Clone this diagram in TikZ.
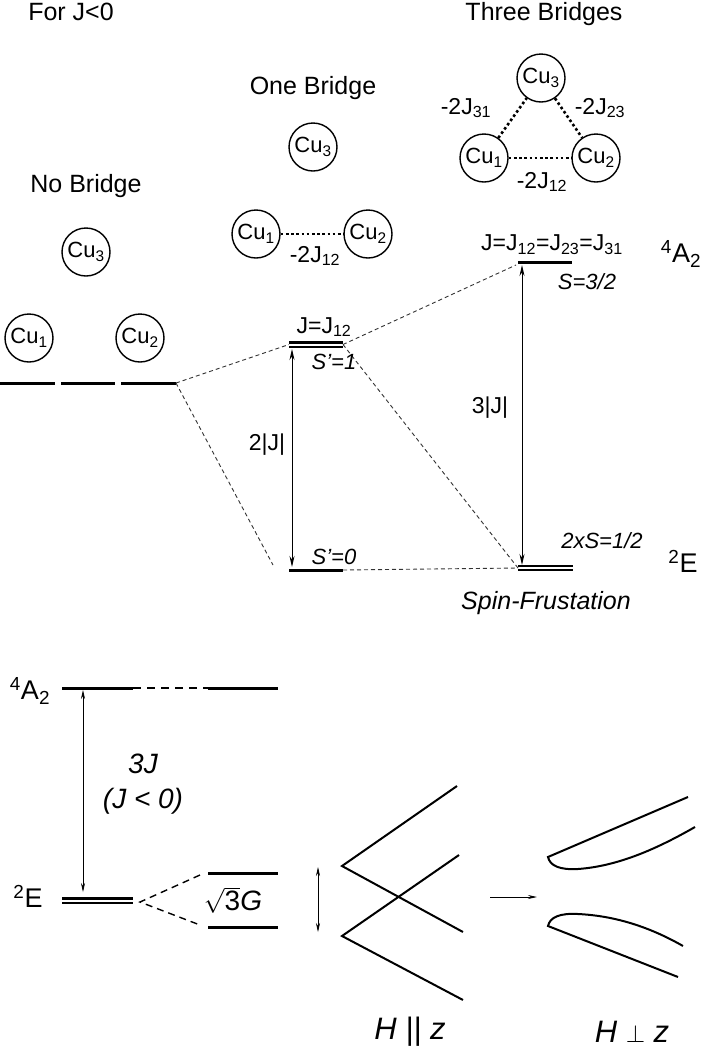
\documentclass[tikz,border=0pt]{standalone}
\usepackage{fontspec}
\setmainfont{Liberation Sans}
\usetikzlibrary{arrows.meta}

\tikzset{
	cu/.style = {circle, draw, line width = 1.4pt, minimum size = 48pt, inner sep = 0pt, font = \fontsize{22}{24}\selectfont},
	bond/.style = {line width = 2.6pt, dash pattern = on 2.6pt off 2.6pt},
	level/.style = {line width = 3pt},
	dlevel/.style = {line width = 2.4pt, double, double distance = 2pt},
	corr/.style = {line width = 0.9pt, black!80, dash pattern = on 4pt off 3pt},
	head/.style = {inner sep = 0pt, font = \fontsize{25}{28}\selectfont},
	lbl/.style = {inner sep = 0pt, font = \fontsize{23}{26}\selectfont},
	ilbl/.style = {inner sep = 0pt, font = \fontsize{22}{26}\selectfont\itshape},
	big/.style = {inner sep = 0pt, font = \fontsize{27}{30}\selectfont},
	gap/.style = {{Stealth[length=11pt,width=5pt]}-{Stealth[length=11pt,width=5pt]}, line width = 1pt},
	thingap/.style = {{Stealth[length=9pt,width=4pt]}-{Stealth[length=9pt,width=4pt]}, line width = 0.7pt},
}

\begin{document}
\begin{tikzpicture}[x=1pt, y=-1pt]
	\useasboundingbox (0,0) rectangle (705,1050);

	% titles
	\node[head] (title) at (71,12) {For J<0};
	\node[head] (tnb) at (86,186) {No Bridge};
	\node[head] (tob) at (313,88) {One Bridge};
	\node[head] (ttb) at (544,14) {Three Bridges};

	% no bridge
	\node[cu] (nbC) at (86,252) {Cu\textsubscript{3}};
	\node[cu] (nbA) at (29,338) {Cu\textsubscript{1}};
	\node[cu] (nbB) at (140,338) {Cu\textsubscript{2}};

	% one bridge
	\node[cu] (obC) at (313,147) {Cu\textsubscript{3}};
	\node[cu] (obA) at (256,234) {Cu\textsubscript{1}};
	\node[cu] (obB) at (368,234) {Cu\textsubscript{2}};
	\draw[bond] (obA) -- (obB);
	\node[lbl] (obJ) at (315,256) {-2J\textsubscript{12}};

	% three bridges
	\node[cu] (tbC) at (541,78) {Cu\textsubscript{3}};
	\node[cu] (tbA) at (484,158) {Cu\textsubscript{1}};
	\node[cu] (tbB) at (596,158) {Cu\textsubscript{2}};
	\draw[bond] (tbA) -- (tbB);
	\draw[bond] (tbA) -- (tbC);
	\draw[bond] (tbC) -- (tbB);
	\node[lbl] (tbJa) at (466,108) {-2J\textsubscript{31}};
	\node[lbl] (tbJb) at (600,108) {-2J\textsubscript{23}};
	\node[lbl] (tbJc) at (542,182) {-2J\textsubscript{12}};

	% levels
	\draw[level] (0,383) -- (55,383);
	\draw[level] (61,383) -- (115,383);
	\draw[level] (121,383) -- (176,383) coordinate (nb);
	\draw[dlevel] (289,344.5) coordinate (ob1l) -- (343,344.5) coordinate (ob1r);
	\draw[level] (289,570) coordinate (ob0l) -- (343,570) coordinate (ob0r);
	\draw[level] (518,262) coordinate (tbql) -- (572,262);
	\draw[dlevel] (518,568) coordinate (tbdl) -- (573,568);
	\coordinate (ob0in) at (273,565);
	\coordinate (tbqin) at (516,265);

	% correlation lines
	\draw[corr] (nb) -- (ob1l);
	\draw[corr] (nb) -- (ob0in);
	\draw[corr] (ob1r) -- (tbqin);
	\draw[corr] (ob1r) -- (tbdl);
	\draw[corr] (ob0r) -- (tbdl);

	% gaps
	\draw[gap] (292,349) -- (292,567);
	\draw[gap] (522,265) -- (522,565);

	\node[lbl] (ob1J) at (324,327) {J=J\textsubscript{12}};
	\node[ilbl] (ob1S) at (334,362) {S’=1};
	\node[ilbl] (ob0S) at (334,557) {S’=0};
	\node[lbl] (obgap) at (267,445) {2|J|};
	\node[lbl] (tbgap) at (490,408) {3|J|};
	\node[lbl] (tbqJ) at (552,245) {J=J\textsubscript{12}=J\textsubscript{23}=J\textsubscript{31}};
	\node[ilbl] (tbqS) at (587,282) {S=3/2};
	\node[big] (tbqT) at (681,254) {\textsuperscript{4}A\textsubscript{2}};
	\node[ilbl] (tbdS) at (602,541) {2xS=1/2};
	\node[big] (tbdT) at (683,561) {\textsuperscript{2}E};
	\node[inner sep = 0pt, font = \fontsize{25}{28}\selectfont\itshape] (spin) at (546,603) {Spin-Frustation};

	% bottom scheme
	\node[big] (qA) at (30,691) {\textsuperscript{4}A\textsubscript{2}};
	\node[big] (dE) at (28,896) {\textsuperscript{2}E};
	\draw[level] (62,688) coordinate (qAl) -- (133,688) coordinate (qAr);
	\draw[level] (208,688) coordinate (qBl) -- (278,688);
	\draw[line width = 2pt, dash pattern = on 8pt off 6pt] (qAr) -- (qBl);
	\draw[dlevel] (62,900.5) -- (133,900.5);
	\draw[level] (208,873) -- (278,873);
	\draw[level] (208,927) -- (278,927);
	\coordinate (split) at (140,902);
	\coordinate (upin) at (200,875);
	\coordinate (loin) at (200,925);
	\draw[line width = 1.4pt, dash pattern = on 7pt off 5pt] (upin) -- (split) -- (loin);
	\draw[thingap] (83,690) -- (83,892);
	\draw[thingap] (318,867) -- (318,932);
	\node[big, font = \fontsize{28}{30}\selectfont\itshape] (gapJ) at (143,764) {3J};
	\node[big, font = \fontsize{28}{30}\selectfont\itshape] (gapneg) at (143,801) {(J < 0)};
	\node[big, font = \fontsize{28}{30}\selectfont] (sq) at (233,900) {$\sqrt{\hbox{3}}$\textit{G}};

	% field dependence
	\draw[line width = 2pt] (457,786) -- (342,866) -- (463,932);
	\draw[line width = 2pt] (459,855) -- (342,936) -- (463,1000);
	\draw[-{Stealth[length=9pt,width=4pt]}, line width = 0.8pt] (490,897) -- (537,897);
	\draw[line width = 2pt] (688,797) -- (548,857) .. controls (550,866) and (560,870) .. (578,869) .. controls (620,866) and (660,847) .. (695,827);
	\draw[line width = 2pt] (678,977) -- (548,926) .. controls (550,917) and (560,913) .. (578,914) .. controls (620,916) and (655,930) .. (683,946);
	\node[inner sep = 0pt, font = \fontsize{31}{33}\selectfont\itshape] (Hpar) at (410,1032) {H || z};
	\node[inner sep = 0pt, font = \fontsize{31}{33}\selectfont\itshape] (Hperp) at (632,1032) {H $\perp$ z};
\end{tikzpicture}
\end{document}
